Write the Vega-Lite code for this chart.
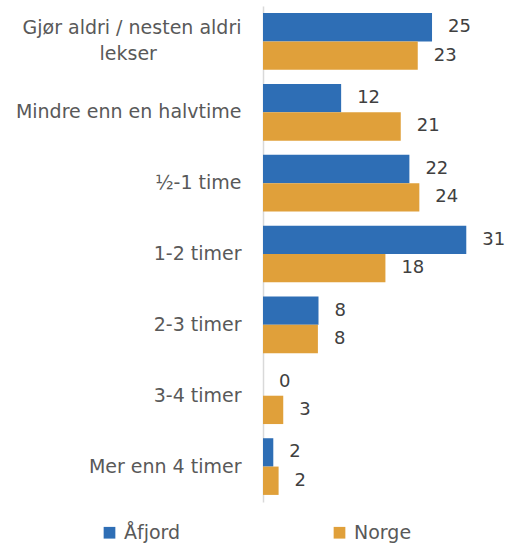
{
  "$schema": "https://vega.github.io/schema/vega-lite/v6.json",
  "autosize": {"type": "none"},
  "width": 239,
  "height": 496,
  "padding": {"left": 263, "top": 6, "right": 13, "bottom": 46},
  "background": "white",
  "config": {"view": {"stroke": null}, "font": "DejaVu Sans"},
  "data": {
    "values": [
      {"kategori": "Gjør aldri / nesten aldri lekser", "område": "Åfjord", "verdi": 25.46},
      {"kategori": "Gjør aldri / nesten aldri lekser", "område": "Norge", "verdi": 23.31},
      {"kategori": "Mindre enn en halvtime", "område": "Åfjord", "verdi": 11.77},
      {"kategori": "Mindre enn en halvtime", "område": "Norge", "verdi": 20.75},
      {"kategori": "½-1 time", "område": "Åfjord", "verdi": 22.05},
      {"kategori": "½-1 time", "område": "Norge", "verdi": 23.55},
      {"kategori": "1-2 timer", "område": "Åfjord", "verdi": 30.62},
      {"kategori": "1-2 timer", "område": "Norge", "verdi": 18.44},
      {"kategori": "2-3 timer", "område": "Åfjord", "verdi": 8.36},
      {"kategori": "2-3 timer", "område": "Norge", "verdi": 8.27},
      {"kategori": "3-4 timer", "område": "Åfjord", "verdi": 0},
      {"kategori": "3-4 timer", "område": "Norge", "verdi": 3.05},
      {"kategori": "Mer enn 4 timer", "område": "Åfjord", "verdi": 1.55},
      {"kategori": "Mer enn 4 timer", "område": "Norge", "verdi": 2.35}
    ]
  },
  "encoding": {
    "y": {
      "field": "kategori",
      "type": "nominal",
      "sort": ["Gjør aldri / nesten aldri lekser", "Mindre enn en halvtime", "½-1 time", "1-2 timer", "2-3 timer", "3-4 timer", "Mer enn 4 timer"],
      "scale": {"paddingInner": 0.2, "paddingOuter": 0.1},
      "axis": {
        "title": null,
        "ticks": false,
        "grid": false,
        "domain": true,
        "domainColor": "#d9d9d9",
        "domainWidth": 1.5,
        "labelPadding": 22,
        "labelFontSize": 19,
        "labelColor": "#595959",
        "labelLimit": 300,
        "labelLineHeight": 26,
        "labelOffset": {"condition": {"test": "datum.value == 'Gjør aldri / nesten aldri lekser'", "value": -13}, "value": 0},
        "labelExpr": "datum.label == 'Gjør aldri / nesten aldri lekser' ? ['Gjør aldri / nesten aldri', 'lekser\u00a0\u00a0\u00a0\u00a0\u00a0\u00a0\u00a0\u00a0\u00a0\u00a0\u00a0\u00a0\u00a0\u00a0\u200b'] : datum.label"
      }
    },
    "yOffset": {"field": "område", "sort": ["Åfjord", "Norge"]},
    "x": {"field": "verdi", "type": "quantitative", "scale": {"domain": [0, 36]}, "axis": null}
  },
  "layer": [
    {
      "mark": {"type": "bar"},
      "encoding": {
        "color": {
          "field": "område",
          "type": "nominal",
          "scale": {"domain": ["Åfjord", "Norge"], "range": ["#2e6eb5", "#e0a03a"]},
          "legend": {
            "orient": "none",
            "legendX": -163,
            "legendY": 517,
            "direction": "horizontal",
            "columns": 2,
            "columnPadding": 149,
            "title": null,
            "symbolType": "square",
            "symbolSize": 137,
            "symbolStrokeWidth": 0,
            "labelFontSize": 19,
            "labelColor": "#595959",
            "labelOffset": 5,
            "padding": 0
          }
        }
      }
    },
    {
      "mark": {"type": "text", "align": "left", "baseline": "middle", "dx": 16, "fontSize": 18, "color": "#404040"},
      "encoding": {"text": {"field": "verdi", "type": "quantitative", "format": ".0f"}}
    }
  ]
}
